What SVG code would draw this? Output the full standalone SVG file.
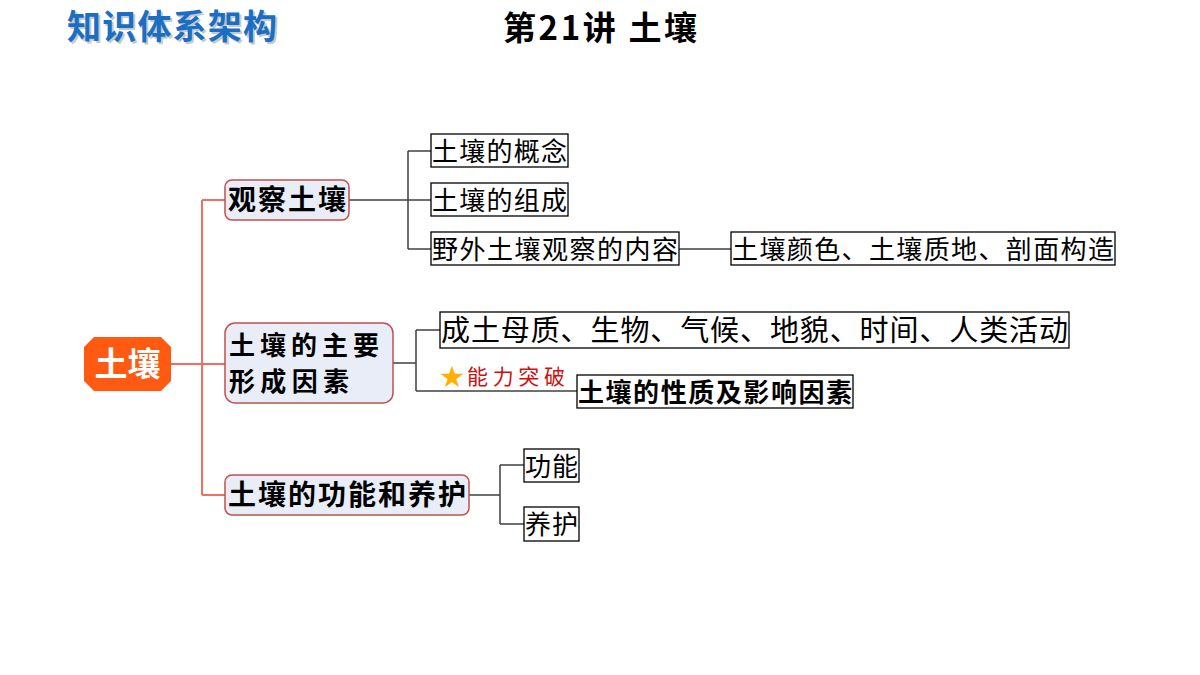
<svg xmlns="http://www.w3.org/2000/svg" width="1200" height="675" viewBox="0 0 1200 675">
<style>
text{font-family:"Noto Sans CJK SC","Liberation Sans",sans-serif;}
.br{fill:#e8edf8;stroke:#c0504d;stroke-width:1.5}
.bt{font-size:28px;font-weight:bold;fill:#000}
.lf{fill:#fff;stroke:#000;stroke-width:1.3}
.lt{font-size:26px;fill:#000}
.red{fill:none;stroke:#f07060;stroke-width:2}
.gr{fill:none;stroke:#404040;stroke-width:1.5}
</style>
<rect width="1200" height="675" fill="#fff"/>
<text x="67" y="39" font-size="34" font-weight="bold" fill="#c8c8c8" transform="translate(2,2)" textLength="210">知识体系架构</text>
<text x="67" y="39" font-size="34" font-weight="bold" fill="#1a6fc4" textLength="210">知识体系架构</text>
<text x="503" y="40" font-size="33" font-weight="bold" fill="#000" textLength="194">第21讲 土壤</text>
<g id="connectors">
<path class="red" d="M171,364H202M202,200V495M202,200H225M202,364H225M202,495H225"/>
<path class="gr" d="M349,200H431M408,151V249M408,151H431M408,249H431M679,249H731"/>
<path class="gr" d="M393,363H416M416,330V391M416,330H440M416,391H577"/>
<path class="gr" d="M469,495H500M500,465V524M500,465H524M500,524H524"/>
</g>
<g id="root">
<polygon points="94,337 161,337 171,347 171,381 161,391 94,391 84,381 84,347" fill="#ff5a12"/>
<text x="127.5" y="376" font-size="33" font-weight="bold" fill="#fff" text-anchor="middle">土壤</text>
</g>
<g id="b1"><rect class="br" x="225" y="180" width="124" height="40" rx="7"/><text class="bt" x="228" y="210" textLength="118">观察土壤</text></g>
<g id="b2"><rect class="br" x="225" y="323" width="168" height="80" rx="10"/><text x="229" y="355" font-size="26" font-weight="bold" textLength="150">土壤的主要</text><text x="229" y="391" font-size="26" font-weight="bold" textLength="120">形成因素</text></g>
<g id="b3"><rect class="br" x="225" y="475" width="244" height="40" rx="7"/><text class="bt" x="228" y="505" textLength="238">土壤的功能和养护</text></g>
<g id="l1"><rect class="lf" x="431" y="134" width="137" height="33"/><text class="lt" x="432" y="161" textLength="135">土壤的概念</text></g>
<g id="l2"><rect class="lf" x="431" y="183" width="137" height="33"/><text class="lt" x="432" y="210" textLength="135">土壤的组成</text></g>
<g id="l3"><rect class="lf" x="431" y="232" width="248" height="33"/><text class="lt" x="432" y="259" textLength="246">野外土壤观察的内容</text></g>
<g id="l4"><rect class="lf" x="731" y="232" width="384" height="33"/><text class="lt" x="732" y="259" textLength="382">土壤颜色、土壤质地、剖面构造</text></g>
<g id="l5"><rect class="lf" x="440" y="312" width="629" height="36"/><text x="441" y="341" font-size="29" fill="#000" textLength="627">成土母质、生物、气候、地貌、时间、人类活动</text></g>
<g id="tag"><text x="440" y="385" font-size="24" fill="#ffb000">★</text><text x="467" y="384" font-size="21" fill="#d01010" font-family="Noto Sans CJK SC,serif" textLength="98">能力突破</text></g>
<g id="l6"><rect class="lf" x="577" y="375" width="276" height="33"/><text x="578" y="402" font-size="26" font-weight="bold" fill="#000" textLength="274">土壤的性质及影响因素</text></g>
<g id="l7"><rect class="lf" x="524" y="449" width="55" height="33"/><text class="lt" x="525" y="476" textLength="53">功能</text></g>
<g id="l8"><rect class="lf" x="524" y="507" width="55" height="34"/><text class="lt" x="525" y="534" textLength="53">养护</text></g>
</svg>
